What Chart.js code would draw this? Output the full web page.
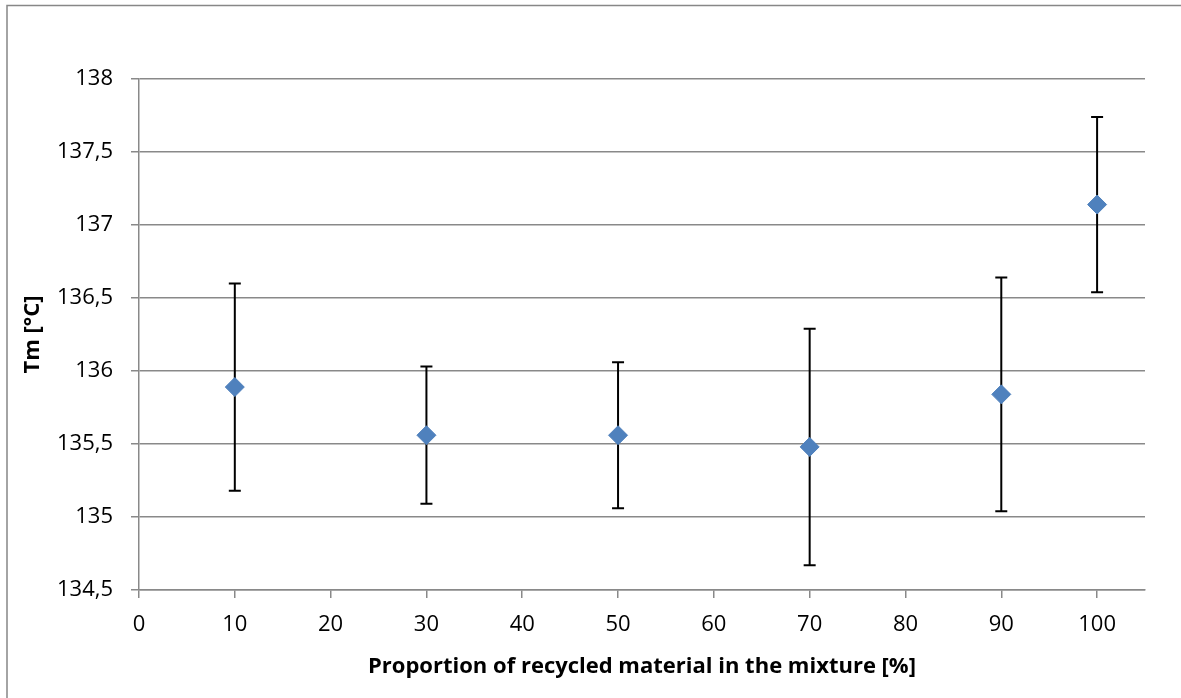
<!DOCTYPE html>
<html>
<head>
<meta charset="utf-8">
<script src="https://cdn.jsdelivr.net/npm/chart.js@4"></script>
<style>
  html, body { margin: 0; padding: 0; background: #fff; }
  #wrap { width: 1181px; height: 698px; }
</style>
</head>
<body>
<div id="wrap"><canvas id="tmChart" width="1181" height="698"></canvas></div>
<script>
// data
const proportions = [10, 30, 50, 70, 90, 100];
const tmValues = [135.89, 135.56, 135.56, 135.48, 135.84, 137.14];
const tmErrors = [0.71, 0.47, 0.5, 0.81, 0.8, 0.6];

const xTicks = [0, 10, 20, 30, 40, 50, 60, 70, 80, 90, 100];
const yTicks = [134.5, 135, 135.5, 136, 136.5, 137, 137.5, 138];

const gridGray = "#898989";
const labelFont = { family: "'Open Sans', sans-serif", size: 22 };
const titleFont = { family: "'Open Sans', sans-serif", size: 22, weight: "bold" };

// comma as decimal separator, like the original
const fmt = (v) => String(v).replace(".", ",");

// white background and the thin frame round the chart
const framePlugin = {
  id: "frame",
  beforeDraw: (chart) => {
    const ctx = chart.ctx;
    ctx.save();
    ctx.fillStyle = "#fff";
    ctx.fillRect(0, 0, chart.width, chart.height);
    ctx.strokeStyle = "#878787";
    ctx.lineWidth = 1.5;
    ctx.strokeRect(7, 5.5, 2000, 2000);
    ctx.restore();
  },
};

// vertical error bars with caps, drawn under the markers
const errorBarPlugin = {
  id: "errorBars",
  beforeDatasetsDraw: (chart) => {
    const { ctx, scales } = chart;
    ctx.save();
    ctx.strokeStyle = "#000";
    ctx.lineWidth = 2;
    proportions.forEach((p, i) => {
      const x = scales.x.getPixelForValue(p);
      const yTop = scales.y.getPixelForValue(tmValues[i] + tmErrors[i]);
      const yBot = scales.y.getPixelForValue(tmValues[i] - tmErrors[i]);
      ctx.beginPath();
      ctx.moveTo(x, yTop);
      ctx.lineTo(x, yBot);
      ctx.moveTo(x - 6, yTop);
      ctx.lineTo(x + 6, yTop);
      ctx.moveTo(x - 6, yBot);
      ctx.lineTo(x + 6, yBot);
      ctx.stroke();
    });
    ctx.restore();
  },
};

const tmChart = new Chart(document.getElementById("tmChart"), {
  type: "scatter",
  data: {
    datasets: [
      {
        label: "Tm",
        data: proportions.map((p, i) => ({ x: p, y: tmValues[i] })),
        pointStyle: "rectRot",
        pointRadius: 9.5,
        pointHoverRadius: 9.5,
        backgroundColor: "#4F81BD",
        borderColor: "#4F81BD",
        borderWidth: 1,
      },
    ],
  },
  options: {
    responsive: false,
    animation: false,
    events: [],
    layout: { padding: { top: 79, right: 36, left: 0, bottom: 0 } },
    plugins: {
      legend: { display: false },
      tooltip: { enabled: false },
    },
    scales: {
      x: {
        type: "linear",
        min: 0,
        max: 105,
        afterBuildTicks: (scale) => {
          scale.ticks = xTicks.map((v) => ({ value: v }));
        },
        afterFit: (scale) => {
          scale.height = 108;
        },
        grid: { drawOnChartArea: false, drawTicks: true, tickLength: 8, color: gridGray, lineWidth: 1.5 },
        border: { color: gridGray, width: 1.5 },
        ticks: { padding: 14, color: "#000", font: labelFont, maxRotation: 0, autoSkip: false },
        title: {
          display: true,
          text: "Proportion of recycled material in the mixture [%]",
          color: "#000",
          font: titleFont,
          padding: { top: 0, bottom: 18 },
        },
      },
      y: {
        min: 134.5,
        max: 138,
        afterBuildTicks: (scale) => {
          scale.ticks = yTicks.map((v) => ({ value: v }));
        },
        afterFit: (scale) => {
          scale.width = 139;
        },
        grid: { drawTicks: true, tickLength: 8, color: gridGray, lineWidth: 1.5 },
        border: { color: gridGray, width: 1.5 },
        ticks: { padding: 18, color: "#000", font: labelFont, callback: (v) => fmt(v) },
        title: {
          display: true,
          text: "Tm [°C]",
          color: "#000",
          font: titleFont,
          padding: { top: 20, bottom: 0 },
        },
      },
    },
  },
  plugins: [framePlugin, errorBarPlugin],
});
</script>
</body>
</html>
